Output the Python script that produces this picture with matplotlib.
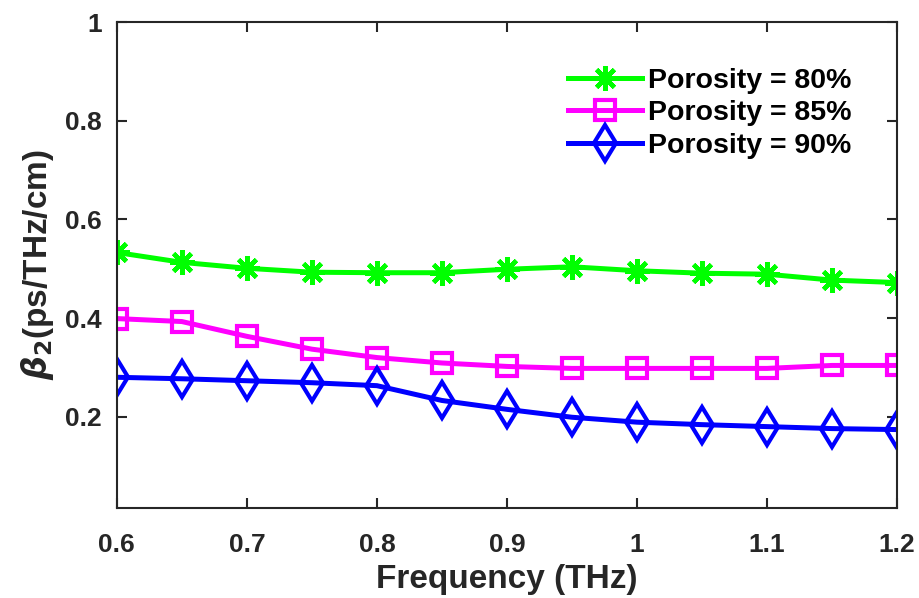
import matplotlib
matplotlib.use("Agg")
import matplotlib.pyplot as plt

# frequency (THz)
freq = [0.6, 0.65, 0.7, 0.75, 0.8, 0.85, 0.9, 0.95, 1.0, 1.05, 1.1, 1.15, 1.2]
# beta_2 (ps/THz/cm) per porosity
beta_80 = [0.533, 0.513, 0.501, 0.493, 0.492, 0.492, 0.499, 0.504, 0.496, 0.491, 0.489, 0.477, 0.472]
beta_85 = [0.399, 0.393, 0.363, 0.337, 0.320, 0.309, 0.302, 0.298, 0.298, 0.298, 0.298, 0.304, 0.304]
beta_90 = [0.280, 0.277, 0.273, 0.269, 0.263, 0.233, 0.215, 0.199, 0.189, 0.184, 0.180, 0.176, 0.174]
labels = ["Porosity = 80%", "Porosity = 85%", "Porosity = 90%"]

plt.rcParams['font.family'] = ['Liberation Sans', 'DejaVu Sans']
plt.rcParams['font.weight'] = 'bold'
plt.rcParams['mathtext.fontset'] = 'dejavusans'

axcol = '#262626'
fig = plt.figure(figsize=(9.2, 5.98), dpi=100)
ax = fig.add_axes([0.127, 0.1505, 0.848, 0.8125])

ax.plot(freq, beta_80, color='#00ff00', linewidth=3.6, marker=(8, 2, 0),
        markersize=18, markeredgewidth=3.2, label=labels[0])
ax.plot(freq, beta_85, color='#ff00ff', linewidth=3.6, marker='s',
        markersize=14, markeredgewidth=3, markerfacecolor='none', label=labels[1])
ax.plot(freq, beta_90, color='#0000ff', linewidth=3.6, marker='d',
        markersize=18, markeredgewidth=3, markerfacecolor='none', label=labels[2])

ax.set_xlim(0.6, 1.2)
ax.set_ylim(0.015, 1)
ax.set_xticks([0.6, 0.7, 0.8, 0.9, 1.0, 1.1, 1.2])
ax.set_xticklabels(['0.6', '0.7', '0.8', '0.9', '1', '1.1', '1.2'])
ax.set_yticks([0.2, 0.4, 0.6, 0.8, 1.0])
ax.set_yticklabels(['0.2', '0.4', '0.6', '0.8', '1'])
ax.tick_params(direction='in', length=7, width=1.5, colors=axcol, labelsize=19,
               top=True, right=True)
ax.tick_params(axis='x', pad=18)
ax.tick_params(axis='y', pad=11)
for s in ax.spines.values():
    s.set_linewidth(1.5)
    s.set_color(axcol)

ax.set_xlabel('Frequency (THz)', fontsize=24, fontweight='bold', color=axcol, labelpad=5)
ax.set_ylabel(r'$\beta_2$(ps/THz/cm)', fontsize=24, fontweight='bold', color=axcol, labelpad=6)

leg = ax.legend(loc='upper right', frameon=False, fontsize=20.5, handlelength=2.6,
                labelspacing=0.23, handletextpad=0.2, borderaxespad=1.2)
for t in leg.get_texts():
    t.set_fontweight('bold')

plt.savefig("out.png", dpi=100)
